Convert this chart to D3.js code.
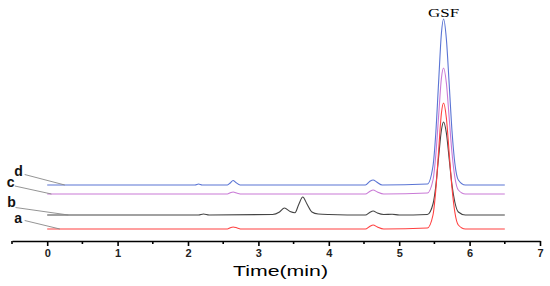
<!DOCTYPE html>
<html>
<head>
<meta charset="utf-8">
<script src="https://cdn.jsdelivr.net/npm/d3@7"></script>
<style>
  body { margin: 0; background: #fff; }
  svg { display: block; }
</style>
</head>
<body>
<div id="d3"></div>
<script>
// time axis ticks (min)
const xTicks = [0, 1, 2, 3, 4, 5, 6, 7];
const xMinorTicks = [-0.5, 0.5, 1.5, 2.5, 3.5, 4.5, 5.5, 6.5];

// chromatogram traces (time in min, signal incl. stacking offset)
const timeD = [0, 2.10, 2.15, 2.20, 2.56, 2.60, 2.64, 2.68, 2.74, 4.52, 4.58, 4.63, 4.68, 4.76, 5.40, 5.48, 5.52, 5.56, 5.60, 5.63, 5.67, 5.71, 5.75, 5.79, 5.84, 5.94, 6.5];
const signalD = [55, 55, 56, 55, 55, 57, 59.5, 57.5, 55, 55, 58.5, 60, 58, 55, 56, 74, 107, 158, 207, 221, 201, 156, 109, 77, 60, 55, 55];

const timeC = [0, 2.56, 2.60, 2.64, 2.70, 2.76, 4.52, 4.58, 4.63, 4.69, 4.78, 5.40, 5.48, 5.52, 5.56, 5.60, 5.63, 5.67, 5.71, 5.75, 5.79, 5.84, 5.94, 6.5];
const signalC = [46, 46, 47.2, 48, 46.8, 46, 46, 48.5, 50, 48, 46, 47, 60, 85, 124, 162, 172, 157, 122, 87, 63, 50, 46, 46];

const timeB = [0, 2.15, 2.22, 2.30, 3.20, 3.30, 3.37, 3.45, 3.52, 3.57, 3.63, 3.69, 3.76, 3.85, 4.00, 4.52, 4.58, 4.63, 4.69, 4.78, 4.90, 5.00, 5.40, 5.48, 5.52, 5.56, 5.60, 5.63, 5.67, 5.71, 5.75, 5.79, 5.84, 5.94, 6.5];
const signalB = [25, 25, 26, 25, 25.5, 28, 32, 28.5, 27.3, 35, 43, 36, 28, 26, 25.5, 25, 27.5, 29, 27, 25.5, 25.8, 25, 25.5, 36, 54, 83, 110, 118, 107, 81, 55, 38, 28, 25, 25];

const timeA = [0, 2.56, 2.60, 2.64, 2.70, 2.76, 4.52, 4.58, 4.63, 4.69, 4.78, 5.40, 5.48, 5.52, 5.56, 5.60, 5.63, 5.67, 5.71, 5.75, 5.79, 5.84, 5.94, 6.5];
const signalA = [11, 11, 12.2, 13, 12, 11, 11, 13.5, 15, 13, 11, 12, 25, 50, 89, 127, 137, 122, 87, 52, 28, 15, 11, 11];

const seriesNames = ["d", "c", "b", "a"];
const seriesColors = ["#5a74d4", "#c97ad6", "#444444", "#ff4040"];
const seriesTimes = [timeD, timeC, timeB, timeA];
const seriesSignals = [signalD, signalC, signalB, signalA];

// label anchors and leader line ends (time, signal)
const labelPos = [[-0.467, 64], [-0.575, 53.3], [-0.566, 33.3], [-0.467, 16.7]];
const leaderStart = [[-0.32, 65.5], [-0.46, 54], [-0.45, 32.5], [-0.32, 19.5]];
const leaderEnd = [[0.25, 55], [0.06, 46], [0.3, 25], [0.18, 11]];

const peakLabel = "GSF";
const peakTime = 5.63;

function drawChart() {
  const width = 550;
  const height = 286;

  const svg = d3
    .select("#d3")
    .append("svg")
    .attr("width", width)
    .attr("height", height);

  const x = d3.scaleLinear().domain([-0.5, 7]).range([12, 540]);
  const y = d3.scaleLinear().domain([0, 230]).range([240, 10]);

  // bottom axis
  const axisY = 241;
  const axis = d3
    .axisBottom(x)
    .tickValues(xTicks)
    .tickFormat(d3.format("d"))
    .tickSize(5)
    .tickSizeOuter(0);

  const gAxis = svg
    .append("g")
    .attr("transform", `translate(0,${axisY})`)
    .call(axis);

  gAxis.select(".domain")
    .attr("stroke", "#000")
    .attr("stroke-width", 1.6);
  gAxis.selectAll(".tick line")
    .attr("stroke", "#000")
    .attr("stroke-width", 1.6);
  gAxis.selectAll(".tick text")
    .attr("y", 8)
    .attr("font-family", "Liberation Sans, Arial, sans-serif")
    .attr("font-size", "11px")
    .attr("font-weight", "bold")
    .attr("fill", "#222");

  gAxis.selectAll(".minor")
    .data(xMinorTicks)
    .enter()
    .append("line")
    .attr("class", "minor")
    .attr("x1", (d) => x(d))
    .attr("x2", (d) => x(d))
    .attr("y1", 0)
    .attr("y2", 3)
    .attr("stroke", "#000")
    .attr("stroke-width", 1.6);

  svg.append("text")
    .attr("x", 233)
    .attr("y", 276)
    .attr("textLength", 95)
    .attr("lengthAdjust", "spacingAndGlyphs")
    .attr("font-family", "Liberation Sans, Arial, sans-serif")
    .attr("font-size", "14px")
    .attr("fill", "#000")
    .text("Time(min)");

  // traces
  const line = d3
    .line()
    .x((d) => x(d[0]))
    .y((d) => y(d[1]))
    .curve(d3.curveMonotoneX);

  seriesNames.forEach((name, i) => {
    const pts = d3.zip(seriesTimes[i], seriesSignals[i]);
    svg.append("path")
      .datum(pts)
      .attr("fill", "none")
      .attr("stroke", seriesColors[i])
      .attr("stroke-width", 1.1)
      .attr("d", line);
  });

  // series labels with leader lines
  seriesNames.forEach((name, i) => {
    svg.append("line")
      .attr("x1", x(leaderStart[i][0]))
      .attr("y1", y(leaderStart[i][1]))
      .attr("x2", x(leaderEnd[i][0]))
      .attr("y2", y(leaderEnd[i][1]))
      .attr("stroke", "#888")
      .attr("stroke-width", 0.9);

    svg.append("text")
      .attr("x", x(labelPos[i][0]))
      .attr("y", y(labelPos[i][1]))
      .attr("font-family", "Liberation Sans, Arial, sans-serif")
      .attr("font-size", "14px")
      .attr("font-weight", "bold")
      .attr("fill", "#111")
      .text(name);
  });

  svg.append("text")
    .attr("x", x(peakTime))
    .attr("y", 17)
    .attr("text-anchor", "middle")
    .attr("textLength", 31)
    .attr("lengthAdjust", "spacingAndGlyphs")
    .attr("font-family", "Liberation Serif, Times New Roman, serif")
    .attr("font-size", "12px")
    .attr("fill", "#000")
    .text(peakLabel);
}

drawChart();
</script>
</body>
</html>
